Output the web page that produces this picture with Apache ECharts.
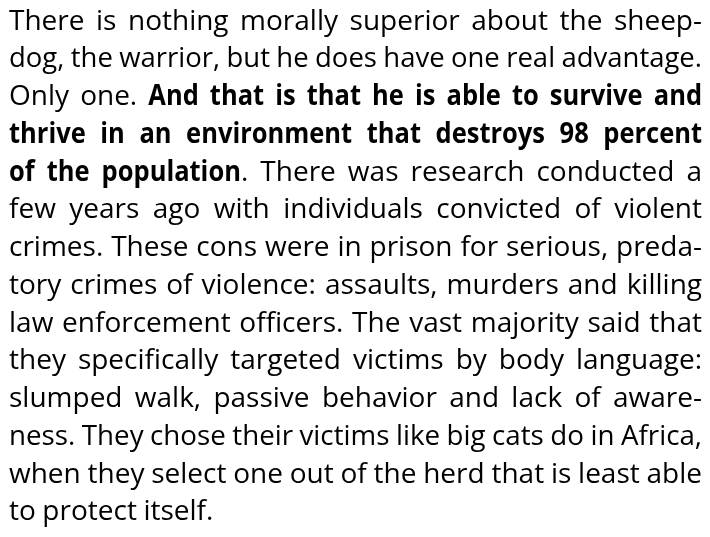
<!DOCTYPE html>
<html>
<head>
<meta charset="utf-8">
<script src="https://cdn.jsdelivr.net/npm/echarts@6/dist/echarts.min.js"></script>
<style>
  html, body { margin: 0; padding: 0; background: #fff; }
  #chart { width: 710px; height: 537px; }
</style>
</head>
<body>
<div id="chart"></div>
<script>
// text of the page, one entry per printed line, **...** marks bold
const textLines = [
  'There is nothing morally superior about the sheep-',
  'dog, the warrior, but he does have one real advantage.',
  'Only one. **And that is that he is able to survive and**',
  '**thrive in an environment that destroys 98 percent**',
  '**of the population**. There was research conducted a',
  'few years ago with individuals convicted of violent',
  'crimes. These cons were in prison for serious, preda-',
  'tory crimes of violence: assaults, murders and killing',
  'law enforcement officers. The vast majority said that',
  'they specifically targeted victims by body language:',
  'slumped walk, passive behavior and lack of aware-',
  'ness. They chose their victims like big cats do in Africa,',
  'when they select one out of the herd that is least able',
  'to protect itself.'
]
// last line of the paragraph is left aligned, others justified
const justified = textLines.map((l, i) => i < textLines.length - 1)

const fontFamily = '"Open Sans"'
const fontSize = 28
const boldSqueeze = 0.91
const left = 9
const right = 702
const firstBaseline = 31
const lineStep = 37.75

const ctx = document.createElement('canvas').getContext('2d')
const fontOf = bold => (bold ? 'bold ' : '') + fontSize + 'px ' + fontFamily
const measure = (t, bold) => {
  ctx.font = fontOf(bold)
  return ctx.measureText(t).width * (bold ? boldSqueeze : 1)
}

// split a line into words, each word a list of runs {text, bold}
const parseLine = s => {
  let bold = false
  const words = [[]]
  for (let i = 0; i < s.length; i++) {
    if (s.substr(i, 2) === '**') { bold = !bold; i++; continue }
    const ch = s[i]
    if (ch === ' ') { words.push([]); continue }
    const w = words[words.length - 1]
    if (w.length && w[w.length - 1].bold === bold) w[w.length - 1].text += ch
    else w.push({ text: ch, bold })
  }
  return words.filter(w => w.length)
}

const chart = echarts.init(document.getElementById('chart'))

const graphics = textLines.map((line, li) => {
  const words = parseLine(line)
  const widths = words.map(w => w.reduce((s, r) => s + measure(r.text, r.bold), 0))
  const sumW = widths.reduce((a, b) => a + b, 0)
  const space = measure(' ', false) * 0.9
  const target = right - left
  const natural = sumW + space * (words.length - 1)
  let gap = space
  let scaleX = 1
  if (natural > target) {
    scaleX = target / natural
  } else if (justified[li] && words.length > 1) {
    gap = (target - sumW) / (words.length - 1)
  }
  const children = []
  let x = 0
  words.forEach((w, wi) => {
    w.forEach(r => {
      children.push({
        type: 'text',
        x: x,
        y: 0,
        scaleX: r.bold ? boldSqueeze : 1,
        style: {
          text: r.text,
          font: fontOf(r.bold),
          fill: '#000',
          verticalAlign: 'middle',
          align: 'left'
        }
      })
      x += measure(r.text, r.bold)
    })
    x += gap
  })
  return {
    type: 'group',
    x: left,
    y: firstBaseline + li * lineStep - fontSize * 0.33,
    scaleX: scaleX,
    children: children
  }
})

chart.setOption({
  backgroundColor: '#fff',
  graphic: graphics
})
</script>
</body>
</html>
